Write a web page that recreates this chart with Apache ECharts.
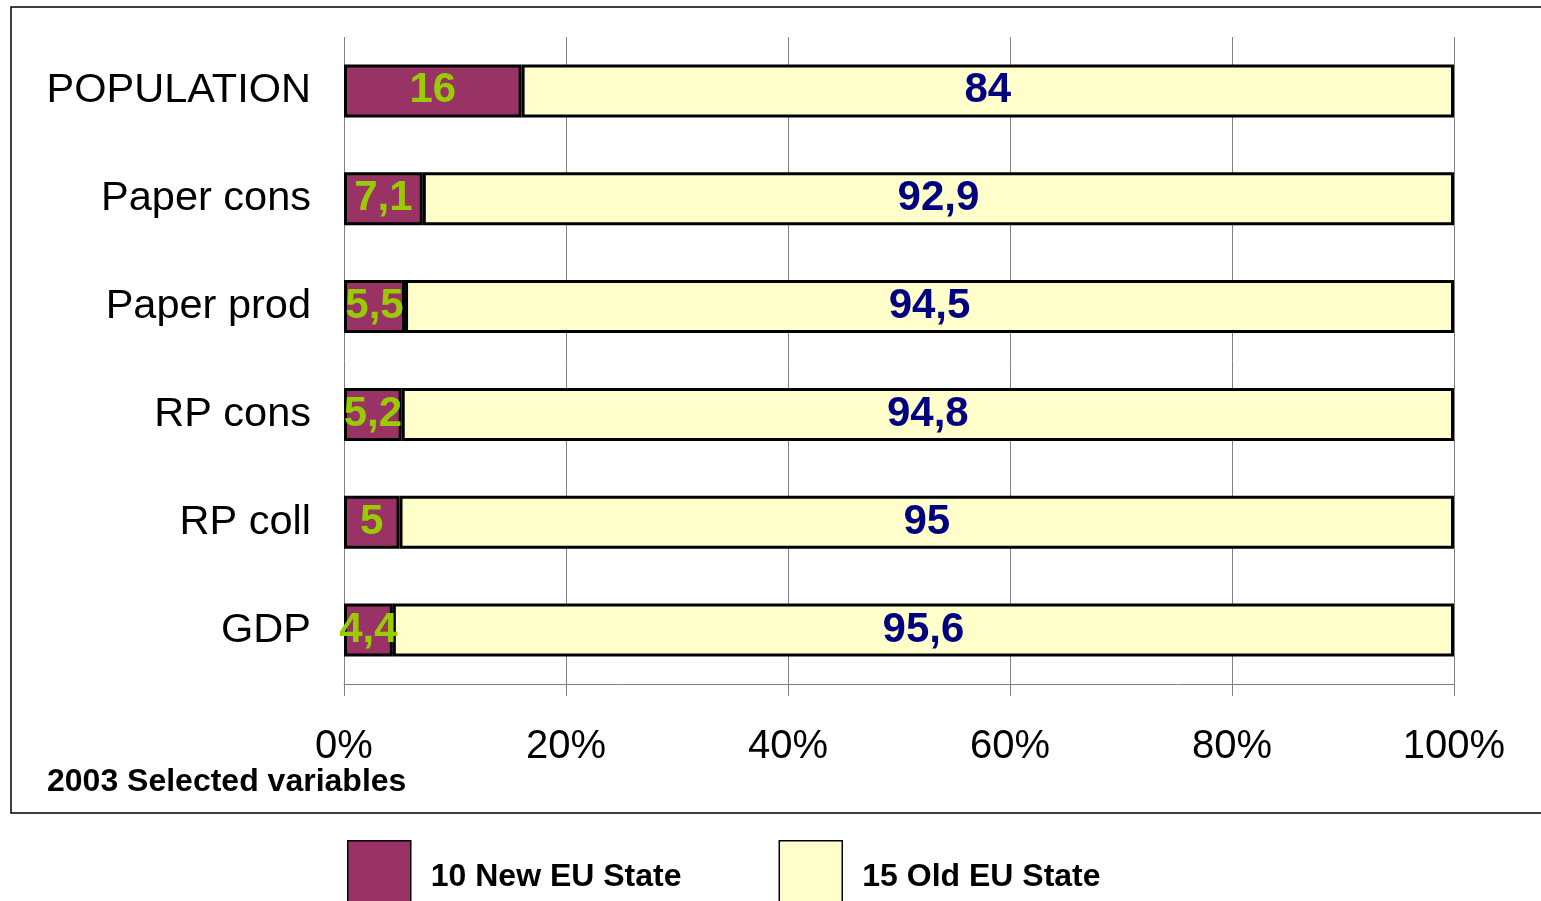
<!DOCTYPE html>
<html>
<head>
<meta charset="utf-8">
<script src="https://cdn.jsdelivr.net/npm/echarts@6/dist/echarts.min.js"></script>
<style>
html,body{margin:0;padding:0;background:#fff;}
#chart{width:1541px;height:901px;}
</style>
</head>
<body>
<div id="chart"></div>
<script>
const categories = ['POPULATION', 'Paper cons', 'Paper prod', 'RP cons', 'RP coll', 'GDP'];
const newEU = [16, 7.1, 5.5, 5.2, 5, 4.4];
const oldEU = [84, 92.9, 94.5, 94.8, 95, 95.6];
const seriesNames = ['10 New EU State', '15 Old EU State'];
const xTicks = [0, 20, 40, 60, 80, 100];
const footnote = '2003 Selected variables';

const font = '"Liberation Sans", Arial, sans-serif';
const chart = echarts.init(document.getElementById('chart'));
const fmt = p => String(p.value).replace('.', ',');

chart.setOption({
  animation: false,
  backgroundColor: '#fff',
  textStyle: { fontFamily: font },
  grid: { left: 344, right: 87, top: 37, bottom: 217, containLabel: false },
  legend: {
    left: 342, top: 835, icon: 'rect',
    itemWidth: 63, itemHeight: 72, itemGap: 97,
    textStyle: { fontSize: 32, fontWeight: 'bold', color: '#000', fontFamily: font, padding: [0, 0, 0, 15] },
    data: seriesNames.map(n => ({ name: n, itemStyle: { borderColor: '#000', borderWidth: 1.5 } }))
  },
  xAxis: {
    type: 'value', min: xTicks[0], max: xTicks[xTicks.length - 1], interval: 20,
    axisLine: { show: true, lineStyle: { color: '#808080', width: 1 } },
    axisTick: { show: true, length: 12, lineStyle: { color: '#808080' } },
    splitLine: { show: true, lineStyle: { color: '#808080', width: 1 } },
    axisLabel: { fontSize: 40, color: '#000', margin: 43, formatter: '{value}%', fontFamily: font }
  },
  yAxis: {
    type: 'category', data: categories, inverse: true,
    axisLine: { show: false }, axisTick: { show: false },
    axisLabel: { fontSize: 41.5, color: '#000', margin: 33, fontFamily: font }
  },
  graphic: [
    { type: 'rect', shape: { x: 11, y: 7, width: 1600, height: 806 }, style: { fill: 'none', stroke: '#000', lineWidth: 1.5 }, silent: true, z: 100 },
    { type: 'text', left: 47, top: 766, style: { text: footnote, font: 'bold 32px ' + font, fill: '#000' } }
  ],
  series: [
    {
      name: seriesNames[0], type: 'bar', stack: 'total', data: newEU, barWidth: 53,
      itemStyle: { color: '#993366', borderColor: '#000', borderWidth: 3 },
      label: { show: true, position: 'inside', formatter: fmt, color: '#99CC00', fontSize: 42, fontWeight: 'bold', fontFamily: font, textBorderWidth: 0 }
    },
    {
      name: seriesNames[1], type: 'bar', stack: 'total', data: oldEU, barWidth: 53,
      itemStyle: { color: '#FFFFCC', borderColor: '#000', borderWidth: 3 },
      label: { show: true, position: 'inside', formatter: fmt, color: '#000080', fontSize: 42, fontWeight: 'bold', fontFamily: font, textBorderWidth: 0 }
    }
  ]
});
</script>
</body>
</html>
